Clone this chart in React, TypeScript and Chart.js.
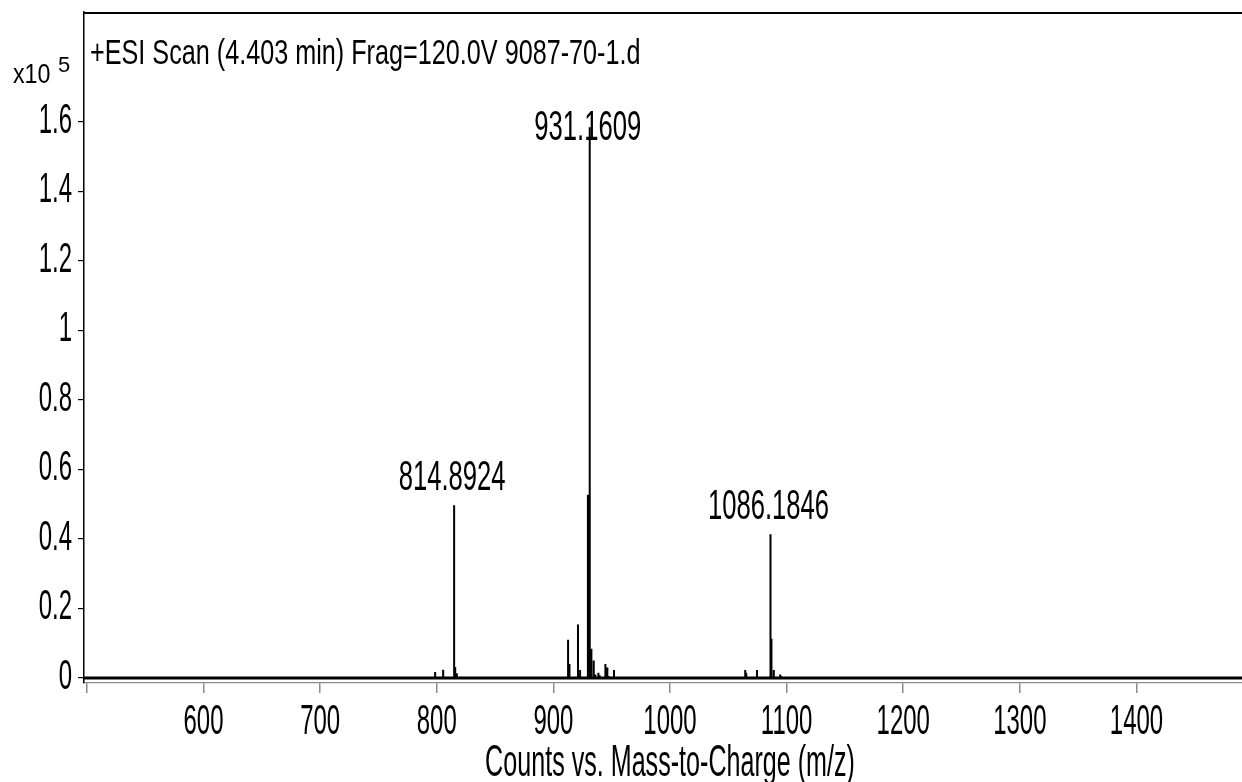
import React, { useEffect, useRef } from "react";
import { Chart, registerables } from "chart.js";

Chart.register(...registerables);

// ---- data ----
const xTickValues = [500, 600, 700, 800, 900, 1000, 1100, 1200, 1300, 1400];
const xTickLabels = ["", "600", "700", "800", "900", "1000", "1100", "1200", "1300", "1400"];
const yTickValues = [0, 0.2, 0.4, 0.6, 0.8, 1.0, 1.2, 1.4, 1.6];
const yTickLabels = ["0", "0.2", "0.4", "0.6", "0.8", "1", "1.2", "1.4", "1.6"];

const peakMz = [
  798.6, 805.5, 814.8924, 815.8, 817.2, 820.5, 827.0, 834.0, 844.0,
  912.6, 913.8, 921.1, 922.9, 929.6, 931.1609, 932.6, 934.6, 936.0, 938.6, 939.7,
  944.6, 946.3, 947.4, 952.0, 958.5, 961.1, 964.6, 995.0,
  1064.5, 1065.4, 1074.6, 1086.1846, 1087.0, 1089.0, 1094.5, 1095.4, 1098.0,
];
const peakIntensity = [
  0.017, 0.024, 0.497, 0.032, 0.014, 0.003, 0.003, 0.003, 0.002,
  0.110, 0.040, 0.154, 0.023, 0.527, 1.585, 0.084, 0.050, 0.010, 0.015, 0.008,
  0.040, 0.030, 0.006, 0.023, 0.003, 0.003, 0.003, 0.003,
  0.023, 0.015, 0.023, 0.414, 0.113, 0.023, 0.010, 0.006, 0.003,
];

const labeledMz = [814.8924, 931.1609, 1086.1846];
const labeledIntensity = [0.497, 1.585, 0.414];
const labeledText = ["814.8924", "931.1609", "1086.1846"];

const titleText = "+ESI Scan (4.403 min) Frag=120.0V 9087-70-1.d";
const xAxisTitle = "Counts vs. Mass-to-Charge (m/z)";
const yUnitBase = "x10";
const yUnitExp = "5";

const X_MIN = 497.5;
const X_MAX = 1490.5;
const Y_MIN = -0.0144;
const Y_MAX = 1.9165;

const FONT = '"Liberation Sans", Arial, sans-serif';

const textPlugin = {
  id: "msText",
  afterDraw(chart: any) {
    const { ctx, chartArea, scales } = chart;
    const xs = scales.x;
    const ys = scales.y;
    const draw = (text: string, x: number, y: number, size: number, sx: number, align: CanvasTextAlign) => {
      ctx.save();
      ctx.font = `${size}px ${FONT}`;
      ctx.fillStyle = "#000";
      ctx.textBaseline = "alphabetic";
      ctx.textAlign = align;
      ctx.translate(x, y);
      ctx.scale(sx, 1);
      ctx.fillText(text, 0, 0);
      ctx.restore();
    };

    // top frame line
    ctx.save();
    ctx.strokeStyle = "#000";
    ctx.lineWidth = 2;
    ctx.beginPath();
    ctx.moveTo(chartArea.left, chartArea.top + 1);
    ctx.lineTo(chartArea.right, chartArea.top + 1);
    ctx.stroke();
    ctx.restore();

    // y tick labels
    yTickValues.forEach((v, i) => {
      draw(yTickLabels[i], chartArea.left - 12, ys.getPixelForValue(v) + 11, 42, 0.57, "right");
    });
    // x tick labels
    xTickValues.forEach((v, i) => {
      if (!xTickLabels[i]) return;
      draw(xTickLabels[i], xs.getPixelForValue(v), chartArea.bottom + 51, 42, 0.57, "center");
    });
    // peak labels
    labeledMz.forEach((mz, i) => {
      const px = xs.getPixelForValue(mz);
      const top = ys.getPixelForValue(labeledIntensity[i]);
      const base = Math.max(top - 15, chartArea.top + 128);
      draw(labeledText[i], px - 2, base, 42, 0.61, "center");
    });
    // title
    draw(titleText, chartArea.left + 6, chartArea.top + 52, 35, 0.72, "left");
    // y unit
    draw(yUnitBase, 13, 83, 27, 0.86, "left");
    draw(yUnitExp, 58, 72, 22, 1.0, "left");
    // x axis title
    draw(xAxisTitle, (chartArea.left + chartArea.right) / 2 + 7, chartArea.bottom + 93, 45, 0.558, "center");
  },
};

export default function App() {
  const canvasRef = useRef<HTMLCanvasElement | null>(null);

  useEffect(() => {
    const canvas = canvasRef.current;
    if (!canvas) return;

    const stickData: { x: number; y: number }[] = [{ x: X_MIN, y: 0 }];
    peakMz.forEach((mz, i) => {
      stickData.push({ x: mz, y: 0 });
      stickData.push({ x: mz, y: peakIntensity[i] });
      stickData.push({ x: mz, y: 0 });
    });
    stickData.push({ x: X_MAX, y: 0 });

    const chart = new Chart(canvas, {
      type: "line",
      data: {
        datasets: [
          {
            data: [
              { x: X_MIN, y: 0 },
              { x: X_MAX, y: 0 },
            ],
            borderColor: "#000",
            borderWidth: 3,
            pointRadius: 0,
            tension: 0,
          },
          {
            data: stickData,
            borderColor: "#000",
            borderWidth: 2,
            pointRadius: 0,
            tension: 0,
          },
        ],
      },
      options: {
        animation: false,
        responsive: false,
        maintainAspectRatio: false,
        parsing: false,
        normalized: true,
        layout: { padding: { left: 78, top: 12, right: 0, bottom: 89 } },
        plugins: {
          legend: { display: false },
          tooltip: { enabled: false },
          title: { display: false },
        },
        scales: {
          x: {
            type: "linear",
            min: X_MIN,
            max: X_MAX,
            afterBuildTicks: (axis: any) => {
              axis.ticks = xTickValues.map((v) => ({ value: v }));
            },
            ticks: { display: false },
            grid: {
              display: true,
              drawOnChartArea: false,
              drawTicks: true,
              tickLength: 10,
              color: "#8a8a8a",
              lineWidth: 1.5,
            },
            border: { display: true, color: "#8a8a8a", width: 1.2 },
          },
          y: {
            type: "linear",
            min: Y_MIN,
            max: Y_MAX,
            afterBuildTicks: (axis: any) => {
              axis.ticks = yTickValues.map((v) => ({ value: v }));
            },
            ticks: { display: false },
            grid: {
              display: true,
              drawOnChartArea: false,
              drawTicks: true,
              tickLength: 6,
              color: "#000",
              lineWidth: 1.2,
            },
            border: { display: true, color: "#000", width: 1.5 },
          },
        },
      },
      plugins: [textPlugin],
    } as any);

    return () => chart.destroy();
  }, []);

  return (
    <div
      style={{
        position: "fixed",
        left: 0,
        top: 0,
        width: 1242,
        height: 782,
        background: "#fff",
        overflow: "hidden",
      }}
    >
      <canvas ref={canvasRef} width={1242} height={782} style={{ display: "block" }} />
    </div>
  );
}
